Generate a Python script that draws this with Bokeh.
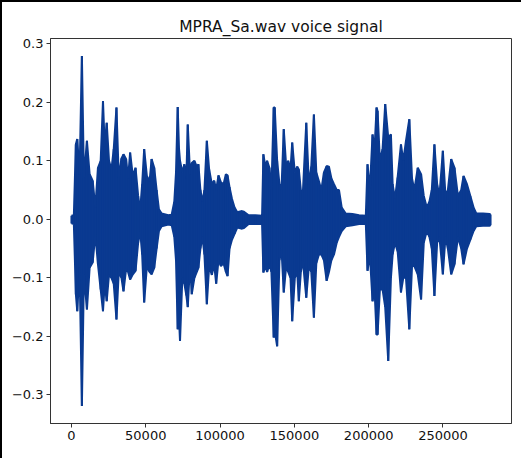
from bokeh.plotting import figure
from bokeh.models import Range1d, FixedTicker
from bokeh.embed import file_html
from bokeh.resources import INLINE

# ---- data (envelope of the waveform) ----
n_samples = 282000
sample_idx = [
    0, 1620, 2970, 3900, 5470, 7030, 8380, 10410, 12230, 14260, 16080, 17840,
    19670, 21220, 22370, 23720, 25270, 26900, 28450, 30280, 31830, 33650, 35010,
    36760, 38110, 39470, 41290, 43120, 44870, 46220, 47580, 48930, 50750, 52580,
    53930, 55690, 57310, 58860, 60690, 65150,
    67440, 69200, 70350, 71500, 72380, 73050, 74610, 75960, 77310, 78260, 79810,
    80960, 82720, 84340, 85420, 86770, 88120, 89470, 91100, 92650, 94480, 96030,
    97380, 98940, 100560, 102320, 103940, 105020, 106370, 107990, 109750, 111570,
    114270, 116100, 119210, 123740, 128270, 129150, 130500, 131650, 133200,
    134550, 136100,
    136780, 138400, 139960, 141310, 142860, 144480, 145840, 147390, 148540,
    150300, 151920, 153000, 154350, 155700, 158000, 159760, 161380, 163140,
    164760, 166520, 168140, 169900, 171720, 173270, 174890, 176650, 178480,
    180030, 181860, 184560, 189090, 193550, 198080, 199230, 200780, 202600,
    203950, 205300,
    205980, 207540, 209360, 211120, 213150, 214970, 216120, 217670, 219500,
    221730, 223280, 225100, 227340, 229160, 230720, 233020, 235250, 237070,
    239100, 240850, 242470, 244230, 246060, 247610, 249910, 251670, 253290,
    255520, 257750, 260050, 262280, 263830, 266130, 268360, 270590, 272410,
    276940, 281400, 282000,
]
upper = [
    0.006, 0.007, 0.128, 0.137, 0.077, 0.279, 0.071, 0.134, 0.077, 0.066, 0.020, 0.088,
    0.100, 0.202, 0.125, 0.165, 0.100, 0.085, 0.120, 0.191, 0.071, 0.104, 0.111,
    0.103, 0.070, 0.114, 0.074, 0.088, 0.040, 0.015, 0.060, 0.120, 0.074, 0.065,
    0.103, 0.088, 0.050, 0.017, 0.010, 0.007,
    0.008, 0.030, 0.080, 0.192, 0.120, 0.100, 0.080, 0.094, 0.070, 0.162, 0.077,
    0.096, 0.100, 0.090, 0.094, 0.050, 0.030, 0.050, 0.134, 0.085, 0.060, 0.066,
    0.050, 0.075, 0.063, 0.060, 0.077, 0.075, 0.055, 0.035, 0.020, 0.012,
    0.014, 0.013, 0.007, 0.007, 0.006, 0.111, 0.090, 0.100, 0.088,
    0.050, 0.191,
    0.191, 0.100, 0.060, 0.050, 0.154, 0.090, 0.100, 0.085, 0.131,
    0.080, 0.090, 0.085, 0.050, 0.045, 0.165, 0.060, 0.090, 0.179,
    0.080, 0.065, 0.050, 0.080, 0.091, 0.090, 0.070, 0.060, 0.050,
    0.050, 0.020, 0.010, 0.009, 0.007, 0.006, 0.094, 0.050, 0.145,
    0.120, 0.191,
    0.185, 0.100, 0.120, 0.197, 0.140, 0.145, 0.060, 0.035, 0.072,
    0.128, 0.100, 0.134, 0.171, 0.070, 0.050, 0.088, 0.077, 0.040,
    0.020, 0.030, 0.050, 0.128, 0.060, 0.040, 0.117, 0.040, 0.050,
    0.103, 0.088, 0.040, 0.050, 0.074, 0.060, 0.040, 0.020, 0.010,
    0.010, 0.009, 0.008,
]
lower = [
    -0.007, -0.008, -0.128, -0.157, -0.083, -0.319, -0.094, -0.154, -0.083, -0.074, -0.026, -0.077,
    -0.120, -0.157, -0.110, -0.140, -0.094, -0.100, -0.110, -0.171, -0.090, -0.100, -0.123,
    -0.085, -0.090, -0.103, -0.094, -0.088, -0.040, -0.020, -0.060, -0.142, -0.080, -0.090,
    -0.094, -0.083, -0.050, -0.020, -0.012, -0.009,
    -0.010, -0.030, -0.070, -0.188, -0.170, -0.208, -0.100, -0.110, -0.130, -0.150, -0.077,
    -0.128, -0.100, -0.090, -0.083, -0.050, -0.030, -0.060, -0.145, -0.080, -0.095, -0.077,
    -0.110, -0.070, -0.080, -0.075, -0.090, -0.097, -0.050, -0.035, -0.025, -0.014,
    -0.016, -0.015, -0.008, -0.008, -0.008, -0.091, -0.080, -0.090, -0.077,
    -0.090, -0.202,
    -0.190, -0.217, -0.070, -0.050, -0.125, -0.080, -0.090, -0.100, -0.174,
    -0.100, -0.090, -0.140, -0.090, -0.070, -0.134, -0.080, -0.090, -0.168,
    -0.075, -0.060, -0.060, -0.070, -0.105, -0.090, -0.070, -0.060, -0.040,
    -0.030, -0.020, -0.012, -0.010, -0.008, -0.008, -0.088, -0.060, -0.140,
    -0.120, -0.197,
    -0.197, -0.120, -0.120, -0.150, -0.242, -0.100, -0.060, -0.040, -0.055,
    -0.125, -0.100, -0.100, -0.188, -0.080, -0.080, -0.094, -0.137, -0.040,
    -0.020, -0.030, -0.050, -0.131, -0.040, -0.030, -0.094, -0.030, -0.050,
    -0.094, -0.077, -0.030, -0.050, -0.077, -0.050, -0.035, -0.020, -0.012,
    -0.011, -0.011, -0.010,
]
x_ticks = [0, 50000, 100000, 150000, 200000, 250000]
x_tick_labels = ["0", "50000", "100000", "150000", "200000", "250000"]
y_ticks = [-0.3, -0.2, -0.1, 0.0, 0.1, 0.2, 0.3]
y_tick_labels = ["\u22120.3", "\u22120.2", "\u22120.1", "0.0", "0.1", "0.2", "0.3"]
title_text = "MPRA_Sa.wav voice signal"

y_min = min(lower)
y_max = max(upper)
y_pad = 0.05 * (y_max - y_min)
x_pad = 0.05 * n_samples

wave_color = "#0a3a91"
spine_color = "#333333"
font = "DejaVu Sans"

p = figure(
    width=521, height=458,
    output_backend="svg", toolbar_location=None,
    x_range=Range1d(-x_pad, n_samples + x_pad),
    y_range=Range1d(y_min - y_pad, y_max + y_pad),
    min_border_left=48, min_border_right=12,
    min_border_top=36, min_border_bottom=37,
    title=title_text,
)
p.styles = {"border-left": "2px solid black", "border-top": "2px solid black"}

p.title.align = "center"
p.title.text_font = font
p.title.text_font_size = "15.5px"
p.title.text_font_style = "normal"
p.title.text_color = "#111111"
p.title.standoff = 6

p.grid.visible = False
p.outline_line_color = spine_color
p.outline_line_width = 1
p.background_fill_color = "white"
p.border_fill_color = "white"

p.varea(x=sample_idx, y1=lower, y2=upper, fill_color=wave_color)
p.line(x=sample_idx, y=upper, line_color=wave_color, line_width=2)
p.line(x=sample_idx, y=lower, line_color=wave_color, line_width=2)
p.segment(x0=sample_idx, y0=lower, x1=sample_idx, y1=upper,
          line_color=wave_color, line_width=2)

for ax in (p.xaxis[0], p.yaxis[0]):
    ax.axis_line_color = spine_color
    ax.major_tick_line_color = spine_color
    ax.major_tick_out = 4
    ax.major_tick_in = 0
    ax.minor_tick_line_color = None
    ax.major_label_text_font = font
    ax.major_label_text_font_size = "13px"
    ax.major_label_text_color = "#111111"
    ax.major_label_standoff = 3

p.xaxis.ticker = FixedTicker(ticks=x_ticks)
p.xaxis.major_label_overrides = {t: l for t, l in zip(x_ticks, x_tick_labels)}
p.yaxis.ticker = FixedTicker(ticks=y_ticks)
p.yaxis.major_label_overrides = {t: l for t, l in zip(y_ticks, y_tick_labels)}

open("out.html", "w").write(file_html(p, INLINE))
